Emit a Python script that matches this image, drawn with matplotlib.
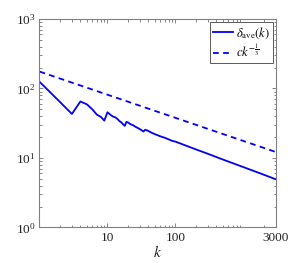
import matplotlib
matplotlib.use("Agg")
import matplotlib.pyplot as plt
from matplotlib.ticker import LogLocator, FixedLocator, NullFormatter

plt.rcParams['font.family'] = ['Liberation Serif', 'DejaVu Serif']
plt.rcParams['mathtext.fontset'] = 'stix'

# average delta vs k
k_vals = [1, 2, 3, 4, 5, 6, 7, 8, 9, 10, 11, 12, 13, 14, 15, 16, 17, 18, 19, 20,
          22, 24, 26, 28, 30, 32, 34, 36, 40, 45, 50, 60, 70, 80, 90, 100,
          150, 200, 300, 500, 1000, 2000, 3000]
delta_ave = [125, 64, 43, 65, 59, 50, 42, 39, 34.5, 45.5, 42, 39.5, 38.5, 36.5, 34, 32.5, 30.5, 29, 33, 32.5,
             30.5, 29.5, 28, 27, 26, 25, 24, 25.5, 24.5, 23, 22, 20.5, 19.5, 18.5, 17.6, 17.2,
             14.8, 13.3, 11.5, 9.5, 7.4, 5.75, 4.94]

# reference curve c*k^(-1/3), end points
fit_k = [1, 3000]
fit_vals = [175, 12.2]

xticks = [10, 100, 3000]
xticklabels = ['10', '100', '3000']

fig = plt.figure(figsize=(3.05, 2.63), dpi=100)
ax = fig.add_axes([0.1295, 0.135, 0.7745, 0.793])

ax.plot(k_vals, delta_ave, color='#0000ff', lw=1.3, label=r'$\delta_{\rm ave}(k)$')
ax.plot(fit_k, fit_vals, color='#0000ff', lw=1.3, ls=(0, (3.2, 2.4)), label=r'$ck^{-\frac{1}{3}}$')

ax.set_xscale('log')
ax.set_yscale('log')
ax.set_xlim(1, 3000)
ax.set_ylim(1, 1000)

ax.xaxis.set_major_locator(FixedLocator(xticks))
ax.set_xticklabels(xticklabels)
ax.xaxis.set_minor_locator(LogLocator(base=10, subs=range(2, 10), numticks=20))
ax.xaxis.set_minor_formatter(NullFormatter())
ax.yaxis.set_major_locator(LogLocator(base=10, numticks=10))
ax.yaxis.set_minor_locator(LogLocator(base=10, subs=range(2, 10), numticks=20))
ax.yaxis.set_minor_formatter(NullFormatter())

ax.tick_params(which='both', direction='in', top=True, right=True, colors='0.45',
               labelcolor='#222222', labelsize=9.5, width=0.6)
ax.tick_params(which='major', length=3, pad=3)
ax.tick_params(which='minor', length=1.8)
for s in ax.spines.values():
    s.set_color('0.5')
    s.set_linewidth(0.8)

ax.set_xlabel(r'$k$', fontsize=11, labelpad=0, color='#222222')

leg = ax.legend(loc='upper right', fontsize=9, handlelength=1.6, handletextpad=0.2,
                borderpad=0.25, labelspacing=0.2, borderaxespad=0.25, fancybox=False,
                framealpha=1)
leg.get_frame().set_edgecolor('0.35')
leg.get_frame().set_linewidth(0.7)

fig.savefig('out.png', dpi=100)
